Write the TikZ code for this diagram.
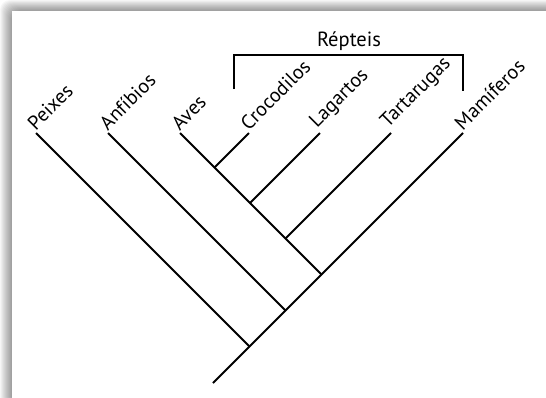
\documentclass[tikz,border=0pt]{standalone}
\usepackage{fontspec}
\setmainfont{PT Sans}
\begin{document}
\begin{tikzpicture}[x=1pt,y=-1pt,
  branch/.style={line width=1.8pt, line cap=butt},
  taxon/.style={rotate=45, anchor=south west, inner sep=1pt, font=\fontsize{20}{22}\selectfont},
  title/.style={anchor=base, inner sep=0pt, font=\fontsize{20.5}{22}\selectfont}]
\useasboundingbox (0,0) rectangle (546,397);
\clip (0,0) rectangle (546,397);
\fill[white] (0,0) rectangle (546,397);
\foreach \i in {0,...,11}{
  \fill[black, opacity=0.035, rounded corners=10pt] (\i,\i*0.9) rectangle (600,450);
}
\fill[white] (12,11) rectangle (600,450);
% coordinates
\coordinate (root) at (213,383);
\coordinate (tMam) at (463,133);
\coordinate (tPei) at (36,133);
\coordinate (jPei) at (249.5,346.5);
\coordinate (tAnf) at (108,133);
\coordinate (jAnf) at (285.5,310.5);
\coordinate (tAve) at (180,133);
\coordinate (jAve) at (321.5,274.5);
\coordinate (tCro) at (249,133);
\coordinate (jCro) at (214.5,167.5);
\coordinate (tLag) at (320,133);
\coordinate (jLag) at (250,203);
\coordinate (tTar) at (391,133);
\coordinate (jTar) at (285.5,238.5);
% tree
\draw[branch] (root) -- (tMam);
\draw[branch] (tPei) -- (jPei);
\draw[branch] (tAnf) -- (jAnf);
\draw[branch] (tAve) -- (jAve);
\draw[branch] (tCro) -- (jCro);
\draw[branch] (tLag) -- (jLag);
\draw[branch] (tTar) -- (jTar);
% labels
\node[taxon] (lPei) at (tPei) {Peixes};
\node[taxon] (lAnf) at (tAnf) {Anfíbios};
\node[taxon] (lAve) at (tAve) {Aves};
\node[taxon] (lCro) at (tCro) {Crocodilos};
\node[taxon] (lLag) at (tLag) {Lagartos};
\node[taxon] (lTar) at (tTar) {Tartarugas};
\node[taxon] (lMam) at (tMam) {Mamíferos};
% bracket
\coordinate (bL) at (234,89);
\coordinate (bR) at (463,91);
\draw[branch, line width=1.6pt] (bL) |- (348.5,55) -| (bR);
\node[title] (rep) at (349,46) {Répteis};
\end{tikzpicture}
\end{document}
